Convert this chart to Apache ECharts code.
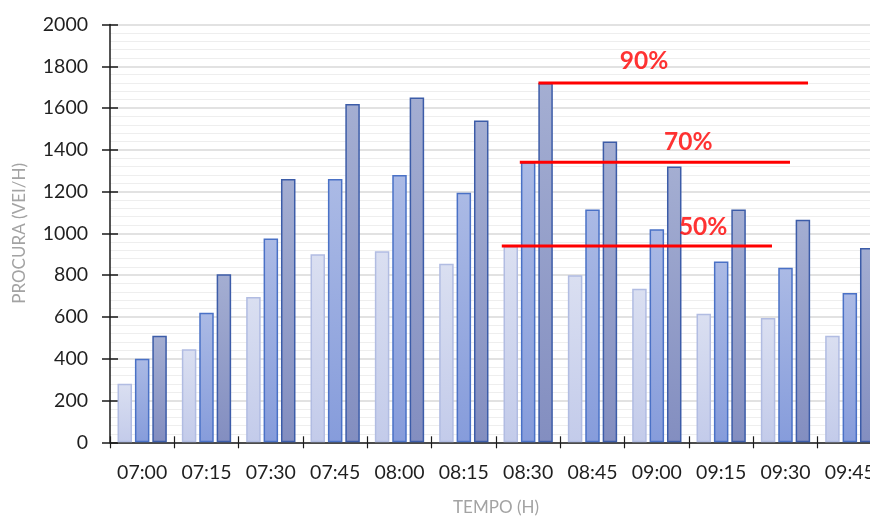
<!DOCTYPE html>
<html>
<head>
<meta charset="utf-8">
<title>Procura por período</title>
<script src="https://cdn.jsdelivr.net/npm/echarts@6/dist/echarts.min.js"></script>
<style>
  html, body { margin: 0; padding: 0; background: #ffffff; }
  #chart { width: 870px; height: 517px; }
</style>
</head>
<body>
<div id="chart"></div>
<script>
// Time periods on the horizontal axis
const categories = ['07:00', '07:15', '07:30', '07:45', '08:00', '08:15', '08:30', '08:45', '09:00', '09:15', '09:30', '09:45'];

// Demand (veh/h) for each scenario
const demandLow  = [280, 445, 695, 900, 915, 855, 940, 800, 735, 615, 595, 510];
const demandMid  = [400, 620, 975, 1260, 1280, 1195, 1340, 1115, 1020, 865, 835, 715];
const demandHigh = [510, 805, 1260, 1620, 1650, 1540, 1720, 1440, 1320, 1115, 1065, 930];

// Y axis ticks
const yTicks = [0, 200, 400, 600, 800, 1000, 1200, 1400, 1600, 1800, 2000];

// Threshold reference lines (percent label, level = peak of each scenario)
const thresholdNames = ['50%', '70%', '90%'];
const thresholdLevels = [Math.max(...demandLow), Math.max(...demandMid), Math.max(...demandHigh)];
// Extent of each line along the period axis (in category units)
const thresholdStart = [6.09, 6.37, 6.66];
const thresholdEnd   = [10.29, 10.57, 10.85];
// Label anchor for each threshold (category units, demand units)
const thresholdLabelX = [9.22, 8.99, 8.30];
const thresholdLabelY = [1031, 1437, 1825];

const FONT = 'Lato';

function grad(top, bottom) {
  return new echarts.graphic.LinearGradient(0, 0, 0, 1, [
    { offset: 0, color: top },
    { offset: 1, color: bottom }
  ]);
}

const barCommon = {
  type: 'bar',
  xAxisIndex: 0,
  yAxisIndex: 0,
  barWidth: 14.5,
  barGap: '20%',
  animation: false
};

const series = [
  Object.assign({}, barCommon, {
    name: 'low',
    data: demandLow,
    itemStyle: { color: grad('#dadff1', '#c3cbea'), borderColor: '#b1bce2', borderWidth: 1.5 }
  }),
  Object.assign({}, barCommon, {
    name: 'mid',
    data: demandMid,
    itemStyle: { color: grad('#abbae5', '#869cdb'), borderColor: '#4a71c6', borderWidth: 1.5 }
  }),
  Object.assign({}, barCommon, {
    name: 'high',
    data: demandHigh,
    itemStyle: { color: grad('#a4aed2', '#838ec0'), borderColor: '#3c5ca8', borderWidth: 1.5 }
  })
];

thresholdLevels.forEach((lvl, i) => {
  series.push({
    type: 'line',
    xAxisIndex: 2,
    yAxisIndex: 0,
    data: [[thresholdStart[i], lvl], [thresholdEnd[i], lvl]],
    symbol: 'none',
    lineStyle: { color: '#ff0000', width: 3, cap: 'butt' },
    z: 5,
    animation: false,
    silent: true
  });
});

series.push({
  type: 'scatter',
  xAxisIndex: 2,
  yAxisIndex: 0,
  symbolSize: 0,
  data: thresholdNames.map((n, i) => ({ value: [thresholdLabelX[i], thresholdLabelY[i]], name: n })),
  label: {
    show: true,
    position: 'inside',
    formatter: p => p.name,
    color: '#ff0000',
    fontFamily: FONT,
    fontWeight: 'bold',
    fontSize: 24.5
  },
  z: 6,
  animation: false,
  silent: true
});

const chart = echarts.init(document.getElementById('chart'), null, { renderer: 'canvas' });
chart.setOption({
  backgroundColor: '#ffffff',
  animation: false,
  grid: { left: 110, right: -12, top: 24.5, bottom: 74.7, containLabel: false, outerBoundsMode: 'none' },
  xAxis: [
    {
      type: 'category',
      data: categories,
      boundaryGap: true,
      name: 'TEMPO (H)',
      nameLocation: 'middle',
      nameGap: 57,
      nameTextStyle: { color: '#a3a3a3', fontFamily: FONT, fontSize: 17 },
      axisLine: { show: true, lineStyle: { color: '#1a1a1a', width: 1.5 } },
      axisTick: { show: true, alignWithLabel: false, length: 6, lineStyle: { color: '#1a1a1a', width: 1.2 } },
      axisLabel: { color: '#1f1f1f', fontFamily: FONT, fontSize: 19.5, margin: 20, interval: 0 },
      splitLine: { show: false }
    },
    {
      type: 'category',
      data: categories,
      boundaryGap: true,
      position: 'bottom',
      axisLine: { show: false },
      axisTick: { show: true, inside: true, length: 6, lineStyle: { color: '#1a1a1a', width: 1.2 } },
      axisLabel: { show: false },
      splitLine: { show: false }
    },
    {
      type: 'value',
      min: 0,
      max: categories.length,
      show: false
    }
  ],
  yAxis: [
    {
      type: 'value',
      min: yTicks[0],
      max: yTicks[yTicks.length - 1],
      interval: yTicks[1] - yTicks[0],
      name: 'PROCURA (VEI/H)',
      nameLocation: 'middle',
      nameGap: 82,
      nameRotate: 90,
      nameTextStyle: { color: '#a3a3a3', fontFamily: FONT, fontSize: 17 },
      axisLine: { show: true, lineStyle: { color: '#1a1a1a', width: 1.5 } },
      axisTick: { show: true, length: 8, lineStyle: { color: '#1a1a1a', width: 1.5 } },
      axisLabel: { color: '#1f1f1f', fontFamily: FONT, fontSize: 19.5, margin: 22, formatter: v => String(v) },
      splitLine: { show: true, lineStyle: { color: '#d9d9d9', width: 1.5 } },
      minorTick: { show: false, splitNumber: 5 },
      minorSplitLine: { show: true, lineStyle: { color: '#eeeeee', width: 1.2 } }
    },
    {
      type: 'value',
      min: yTicks[0],
      max: yTicks[yTicks.length - 1],
      interval: yTicks[1] - yTicks[0],
      position: 'left',
      axisLine: { show: false },
      axisTick: { show: true, inside: true, length: 8, lineStyle: { color: '#1a1a1a', width: 1.5 } },
      axisLabel: { show: false },
      splitLine: { show: false }
    }
  ],
  series: series
});
</script>
</body>
</html>
